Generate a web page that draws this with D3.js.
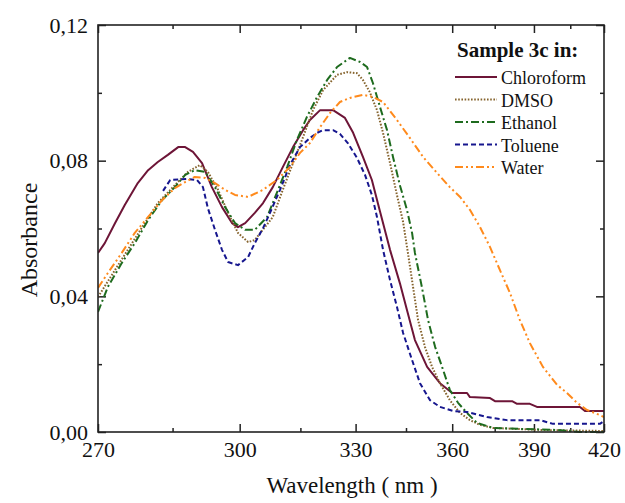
<!DOCTYPE html>
<html>
<head>
<meta charset="utf-8">
<script src="https://cdn.jsdelivr.net/npm/d3@7"></script>
<style>
  html, body { margin: 0; padding: 0; background: #fff; }
  svg { display: block; font-family: "Liberation Serif", "Times New Roman", serif; }
</style>
</head>
<body>
<svg id="chart" width="625" height="503"></svg>
<script>
// ---------------- data ----------------
const xMajorTicks = [270, 300, 330, 360, 390, 420];
const xMinorTicks = [285, 315, 345, 375, 405];
const yMajorTicks = [0, 0.04, 0.08, 0.12];
const yMinorTicks = [0.02, 0.06, 0.10];

const seriesNames = ["Chloroform", "DMSO", "Ethanol", "Toluene", "Water"];
const seriesColors = ["#6d1537", "#86642e", "#1e6b1e", "#16168e", "#ff8a1c"];
const seriesDash = ["none", "1.6,1.6", "8,3,2,3", "5,3", "8,3,2,3,2,3"];

const chloroform = [[270,0.0528],[271.3,0.0557],[273.3,0.0616],[275.2,0.0669],[277.8,0.0734],[279.9,0.0772],[281.9,0.0796],[284.0,0.0817],[286.2,0.0840],[287.7,0.0840],[289.4,0.0826],[291.4,0.0793],[293.6,0.0722],[295.9,0.0663],[298.2,0.0616],[299.6,0.0604],[301.3,0.0616],[303.6,0.0646],[305.6,0.0675],[308.0,0.0722],[310.5,0.0781],[313.1,0.0840],[315.7,0.0890],[317.5,0.0920],[320.2,0.0949],[323.7,0.0949],[327.0,0.0926],[329.3,0.0882],[332.1,0.0811],[334.7,0.0743],[337.1,0.0650],[340.1,0.0537],[343.1,0.0439],[345.3,0.0360],[347.8,0.0271],[351.7,0.0192],[355.9,0.0144],[360,0.0115],[365.1,0.0115],[366.1,0.0103],[373.3,0.0100],[375.1,0.0091],[381.5,0.0091],[383.4,0.0083],[388.4,0.0083],[391.2,0.0074],[409.2,0.0074],[411.4,0.0062],[420,0.0062]];

const dmso = [[270,0.0398],[273.3,0.0478],[275.8,0.0537],[278.7,0.0604],[281.9,0.0675],[285.5,0.0728],[288.3,0.0767],[290.9,0.0787],[292.7,0.0767],[295.0,0.0714],[297.3,0.0646],[299.6,0.0587],[302.0,0.0560],[303.6,0.0566],[308.0,0.0634],[310.5,0.0714],[313.1,0.0793],[315.7,0.0870],[318.3,0.0949],[321.0,0.1008],[324.8,0.1053],[327.6,0.1061],[330.4,0.1058],[332.1,0.1038],[334.1,0.1002],[336.2,0.0949],[338.0,0.0882],[340.1,0.0793],[342.2,0.0699],[344.1,0.0619],[345.6,0.0528],[347.2,0.0428],[348.8,0.0330],[351.0,0.0251],[353.3,0.0192],[355.9,0.0144],[359.2,0.0094],[362.7,0.0056],[366.1,0.0035],[369.7,0.0021],[374.4,0.0012],[392.4,0.0006],[420,0.0003]];

const ethanol = [[270,0.0354],[271.9,0.0428],[274.6,0.0498],[277.2,0.0557],[279.9,0.0625],[282.8,0.0684],[285.5,0.0722],[287.7,0.0758],[289.8,0.0772],[292.1,0.0767],[294.3,0.0722],[296.6,0.0663],[298.9,0.0616],[301.3,0.0596],[303.6,0.0596],[306.6,0.0634],[309.0,0.0705],[311.6,0.0781],[314.1,0.0861],[316.7,0.0929],[319.4,0.0988],[322.1,0.1038],[324.8,0.1076],[328.4,0.1103],[331.3,0.1091],[333.3,0.1076],[335.0,0.1029],[337.1,0.0958],[339.2,0.0890],[341.0,0.0811],[343.1,0.0728],[345.3,0.0655],[346.9,0.0587],[347.8,0.0528],[350.0,0.0428],[352.0,0.0330],[354.3,0.0251],[356.6,0.0192],[359.2,0.0124],[362.0,0.0086],[365.1,0.0056],[368.6,0.0027],[374.4,0.0012],[385.7,0.0009],[399.4,0.0006],[409.2,0.0],[420,0.0]];

const toluene = [[283.0,0.0711],[284.5,0.0743],[288.1,0.0746],[290.3,0.0743],[291.6,0.0722],[292.7,0.0660],[294.3,0.0596],[295.9,0.0537],[297.3,0.0501],[299.6,0.0492],[302.0,0.0516],[303.6,0.0557],[305.6,0.0601],[307.3,0.0646],[309.8,0.0714],[312.3,0.0787],[314.9,0.0840],[317.5,0.0867],[319.4,0.0882],[321.0,0.0890],[323.7,0.0890],[325.6,0.0879],[327.8,0.0852],[330.4,0.0808],[332.7,0.0758],[334.7,0.0699],[336.2,0.0634],[338.0,0.0537],[340.1,0.0448],[342.2,0.0369],[344.1,0.0292],[346.9,0.0212],[349.4,0.0144],[352.6,0.0094],[355.9,0.0074],[360.3,0.0062],[365.1,0.0059],[372.2,0.0044],[379.6,0.0035],[392.4,0.0035],[395.3,0.0029],[397.7,0.0024],[418.1,0.0024],[420,0.0032]];

const water = [[270,0.0425],[271.9,0.0469],[274.6,0.0528],[277.2,0.0587],[279.9,0.0634],[282.8,0.0684],[285.5,0.0719],[287.7,0.0737],[289.8,0.0752],[292.1,0.0749],[294.3,0.0734],[296.6,0.0714],[298.9,0.0699],[302.0,0.0693],[305.6,0.0714],[309.0,0.0743],[312.3,0.0781],[314.9,0.0823],[317.5,0.0852],[320.2,0.0899],[322.9,0.0941],[325.6,0.0973],[328.4,0.0985],[332.1,0.0994],[335.0,0.0988],[338.0,0.0973],[342.2,0.0920],[346.2,0.0867],[350.4,0.0811],[354.9,0.0764],[359.2,0.0722],[362.7,0.0693],[366.1,0.0655],[369.7,0.0604],[373.3,0.0545],[376.9,0.0478],[380.7,0.0410],[384.5,0.0330],[388.4,0.0262],[393.6,0.0192],[399.4,0.0139],[403.6,0.0115],[407.9,0.0086],[412.3,0.0065],[418.1,0.0050],[420,0.0044]];

const seriesData = [chloroform, dmso, ethanol, toluene, water];

// ---------------- layout ----------------
const svg = d3.select("#chart");
const L = 98, R = 604, T = 25, B = 432;

// x axis is linear in 1/wavelength (energy-like scale)
const xr = d3.scaleLinear().domain([1/270, 1/420]).range([L, R]);
const x = wl => xr(1 / wl);
const y = d3.scaleLinear().domain([0, 0.12]).range([B, T]);

const fmtY = d => d3.format(".2f")(d).replace(".", ",");
const axisColor = "#222";

function styleAxis(g) {
  g.select(".domain").remove();
  g.selectAll(".tick line").attr("stroke", axisColor).attr("stroke-width", 1.5);
  g.selectAll(".tick text").attr("fill", "#111").attr("font-family", '"Liberation Serif", "Times New Roman", serif');
}

// bottom axis
svg.append("g").attr("transform", `translate(0,${B})`)
  .call(d3.axisBottom(xr).tickValues(xMajorTicks.map(d => 1/d)).tickFormat(d => Math.round(1/d))
        .tickSizeInner(-8).tickSizeOuter(0).tickPadding(9))
  .call(styleAxis)
  .call(g => g.selectAll(".tick text").attr("font-size", 22));
svg.append("g").attr("transform", `translate(0,${B})`)
  .call(d3.axisBottom(xr).tickValues(xMinorTicks.map(d => 1/d)).tickFormat("").tickSizeInner(-4).tickSizeOuter(0))
  .call(styleAxis);
// top axis
svg.append("g").attr("transform", `translate(0,${T})`)
  .call(d3.axisTop(xr).tickValues(xMajorTicks.map(d => 1/d)).tickFormat("").tickSizeInner(-8).tickSizeOuter(0))
  .call(styleAxis);
svg.append("g").attr("transform", `translate(0,${T})`)
  .call(d3.axisTop(xr).tickValues(xMinorTicks.map(d => 1/d)).tickFormat("").tickSizeInner(-4).tickSizeOuter(0))
  .call(styleAxis);
// left axis
svg.append("g").attr("transform", `translate(${L},0)`)
  .call(d3.axisLeft(y).tickValues(yMajorTicks).tickFormat(fmtY).tickSizeInner(-8).tickSizeOuter(0).tickPadding(10))
  .call(styleAxis)
  .call(g => g.selectAll(".tick text").attr("font-size", 22));
svg.append("g").attr("transform", `translate(${L},0)`)
  .call(d3.axisLeft(y).tickValues(yMinorTicks).tickFormat("").tickSizeInner(-4).tickSizeOuter(0))
  .call(styleAxis);
// right axis
svg.append("g").attr("transform", `translate(${R},0)`)
  .call(d3.axisRight(y).tickValues(yMajorTicks).tickFormat("").tickSizeInner(-8).tickSizeOuter(0))
  .call(styleAxis);
svg.append("g").attr("transform", `translate(${R},0)`)
  .call(d3.axisRight(y).tickValues(yMinorTicks).tickFormat("").tickSizeInner(-4).tickSizeOuter(0))
  .call(styleAxis);

// curves
const line = d3.line().x(d => x(d[0])).y(d => y(d[1])).curve(d3.curveLinear);
svg.append("clipPath").attr("id", "plotclip")
  .append("rect").attr("x", L).attr("y", T).attr("width", R - L).attr("height", B - T + 1);

seriesData.forEach((data, i) => {
  svg.append("path")
    .datum(data)
    .attr("d", line)
    .attr("fill", "none")
    .attr("stroke", seriesColors[i])
    .attr("stroke-width", 2)
    .attr("stroke-dasharray", seriesDash[i])
    .attr("stroke-linejoin", "round")
    .attr("clip-path", "url(#plotclip)");
});

// frame
svg.append("rect").attr("x", L).attr("y", T).attr("width", R - L).attr("height", B - T)
  .attr("fill", "none").attr("stroke", axisColor).attr("stroke-width", 1.6);

// axis titles
svg.append("text").attr("x", 352).attr("y", 493).attr("text-anchor", "middle")
  .attr("font-size", 23).attr("fill", "#111").text("Wavelength ( nm )");
svg.append("text").attr("transform", "translate(37,240) rotate(-90)").attr("text-anchor", "middle")
  .attr("font-size", 24).attr("fill", "#111").text("Absorbance");

// legend
const lg = svg.append("g");
lg.append("text").attr("x", 457).attr("y", 57).attr("font-size", 21).attr("font-weight", "bold")
  .attr("fill", "#111").text("Sample 3c in:");
const rowY = [77, 99.5, 122, 144.5, 167];
seriesNames.forEach((name, i) => {
  lg.append("line").attr("x1", 455).attr("x2", 497).attr("y1", rowY[i]).attr("y2", rowY[i])
    .attr("stroke", seriesColors[i]).attr("stroke-width", 2).attr("stroke-dasharray", seriesDash[i]);
  lg.append("text").attr("x", 501).attr("y", rowY[i] + 7).attr("font-size", 18).attr("fill", "#111").text(name);
});
</script>
</body>
</html>
